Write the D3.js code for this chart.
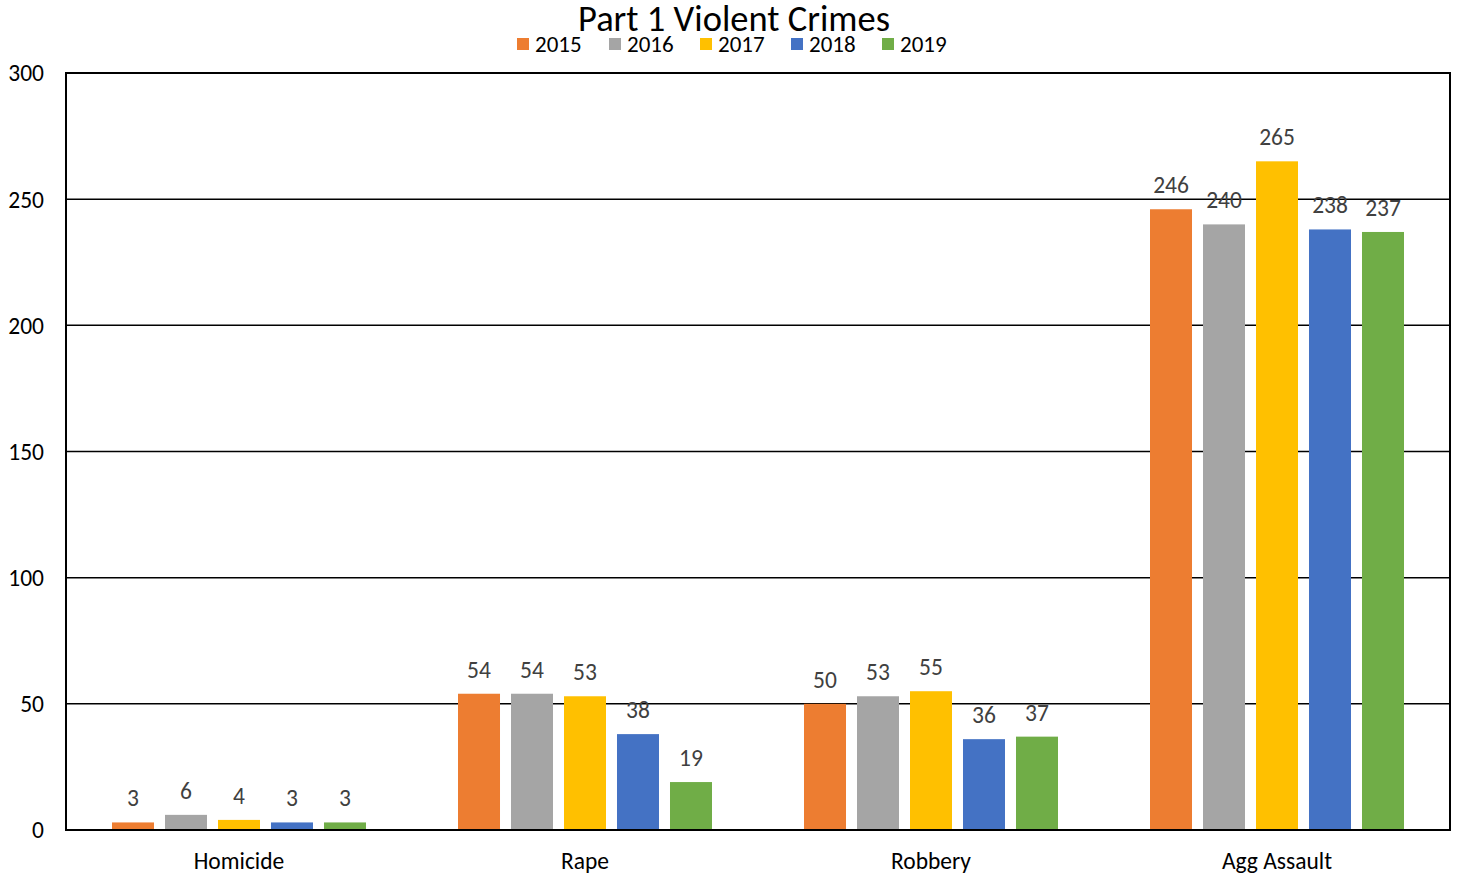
<!DOCTYPE html>
<html><head><meta charset="utf-8">
<script src="https://cdn.jsdelivr.net/npm/d3@7"></script>
<style>
body{margin:0;background:#fff;}
text{font-family:Carlito, Calibri, Lato, "Open Sans", sans-serif;}
</style></head>
<body><svg id="c" width="1457" height="877"></svg>
<script>
const categories = ["Homicide","Rape","Robbery","Agg Assault"];
const years = ["2015","2016","2017","2018","2019"];
const v2015 = [3,54,50,246];
const v2016 = [6,54,53,240];
const v2017 = [4,53,55,265];
const v2018 = [3,38,36,238];
const v2019 = [3,19,37,237];
const yTicks = [0,50,100,150,200,250,300];
const colors = ["#ED7D31","#A5A5A5","#FFC000","#4472C4","#70AD47"];
const series = [v2015,v2016,v2017,v2018,v2019];

const svg = d3.select("#c");
const L=66, R=1450, T=73, B=830;
const x0 = d3.scaleBand().domain(categories).range([L,R]);
const x1 = d3.scaleBand().domain(years).range([0,x0.bandwidth()]).paddingInner(0.2075).paddingOuter(0.868);
const y = d3.scaleLinear().domain([0,300]).range([B,T]);

// gridlines
svg.append("g").selectAll("line").data(yTicks).join("line")
  .attr("x1",L).attr("x2",R).attr("y1",d=>y(d)).attr("y2",d=>y(d))
  .attr("stroke","#000").attr("stroke-width",1.5);

// y labels
svg.append("g").selectAll("text").data(yTicks).join("text")
  .attr("x",44).attr("y",d=>y(d)).attr("dy","0.36em").attr("text-anchor","end")
  .attr("font-size",23.5).attr("fill","#000").text(d=>d);

// bars
const g = svg.append("g");
series.forEach((s,i)=>{
  g.selectAll(null).data(categories).join("rect")
    .attr("x",c=>x0(c)+x1(years[i])).attr("width",x1.bandwidth())
    .attr("y",(c,j)=>y(s[j])).attr("height",(c,j)=>B-y(s[j]))
    .attr("fill",colors[i]);
  g.selectAll(null).data(categories).join("text")
    .attr("x",c=>x0(c)+x1(years[i])+x1.bandwidth()/2)
    .attr("y",(c,j)=>y(s[j])-16)
    .attr("text-anchor","middle").attr("font-size",23.5).attr("fill","#404040")
    .text((c,j)=>s[j]);
});

// frame
svg.append("rect").attr("x",L).attr("y",T).attr("width",R-L).attr("height",B-T)
  .attr("fill","none").attr("stroke","#000").attr("stroke-width",2);

// x labels
svg.append("g").selectAll("text").data(categories).join("text")
  .attr("x",c=>x0(c)+x0.bandwidth()/2).attr("y",869).attr("text-anchor","middle")
  .attr("font-size",23.5).attr("fill","#000").text(c=>c);

// title
svg.append("text").attr("x",734).attr("y",31).attr("text-anchor","middle")
  .attr("font-size",36.5).attr("fill","#000").text("Part 1 Violent Crimes");

// legend
const lx = [517,609,700,791,882];
const lg = svg.append("g");
years.forEach((yr,i)=>{
  lg.append("rect").attr("x",lx[i]).attr("y",38).attr("width",12).attr("height",12).attr("fill",colors[i]);
  lg.append("text").attr("x",lx[i]+18).attr("y",52).attr("font-size",23).attr("fill","#000").text(yr);
});
</script></body></html>
